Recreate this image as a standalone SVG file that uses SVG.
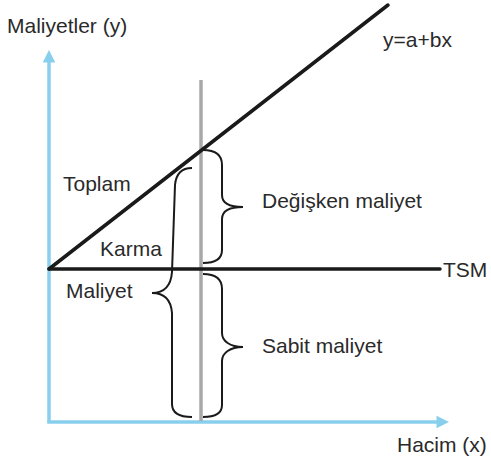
<svg xmlns="http://www.w3.org/2000/svg" width="491" height="463" viewBox="0 0 491 463">
<style>
text{font-family:"Liberation Sans",Arial,sans-serif;font-size:21px;fill:#2a2a2a}
.axis{stroke:#88cfee;stroke-width:3.5;fill:none}
.ln{stroke:#1a1a1a;stroke-width:3.5;fill:none;stroke-linecap:round}
.brace{stroke:#1a1a1a;stroke-width:2;fill:none}
</style>
<defs>
<marker id="ah" viewBox="0 0 10 10" refX="2" refY="5" markerWidth="3.6" markerHeight="3.6" orient="auto" markerUnits="strokeWidth">
<path d="M0,0 L10,5 L0,10 z" fill="#88cfee"/>
</marker>
</defs>
<rect width="491" height="463" fill="#ffffff"/>
<g id="connectors">
<path id="y-axis" class="axis" d="M49,423 L49,60" marker-end="url(#ah)"/>
<path id="x-axis" class="axis" d="M47.3,422 L439,422" marker-end="url(#ah)"/>
<line id="volume-line" x1="201" y1="80" x2="201" y2="421" stroke="#a8a8a8" stroke-width="3.5"/>
<line id="total-cost" class="ln" x1="49" y1="269" x2="388" y2="5"/>
<line id="tsm-line" class="ln" x1="49" y1="269" x2="440" y2="269"/>
<path id="brace-variable" class="brace" d="M203,150 C215,150 222,155 222,165 L222,195 C222,203 230,207 243,207 C230,207 222,211 222,219 L222,250 C222,259 215,263 203,263"/>
<path id="brace-fixed" class="brace" d="M203,274 C215,274 222,279 222,289 L222,333 C222,341 230,347 243,347 C230,347 222,353 222,361 L222,405 C222,413 215,417 203,417"/>
<path id="brace-mixed" class="brace" d="M192,168 C182,168 176,174 175,185 L172,272 C171,285 165,293 152,293 C164,293 171,300 172,313 L172,404 C172,413 180,417 192,417"/>
</g>
<g id="label-y-axis"><text x="7" y="33">Maliyetler (y)</text></g>
<g id="label-equation"><text x="383" y="47">y=a+bx</text></g>
<g id="label-toplam"><text x="63" y="191">Toplam</text></g>
<g id="label-karma"><text x="100" y="256">Karma</text></g>
<g id="label-maliyet"><text x="66" y="298">Maliyet</text></g>
<g id="label-variable"><text x="262" y="208">Değişken maliyet</text></g>
<g id="label-tsm"><text x="443" y="277">TSM</text></g>
<g id="label-fixed"><text x="262" y="353">Sabit maliyet</text></g>
<g id="label-x-axis"><text x="397" y="452">Hacim (x)</text></g>
</svg>
